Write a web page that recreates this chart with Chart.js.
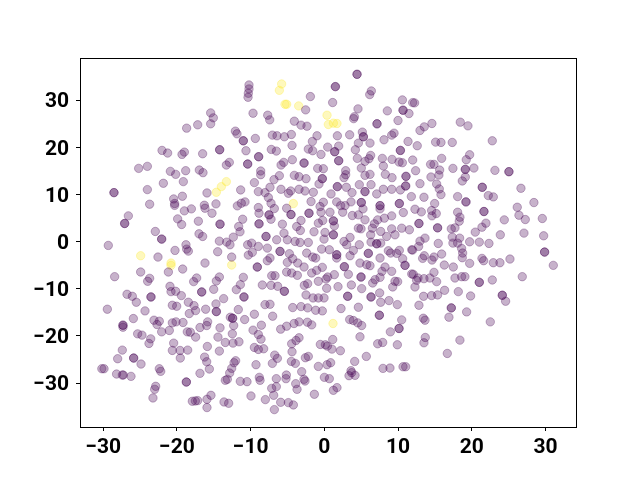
<!DOCTYPE html>
<html>
<head>
<meta charset="utf-8">
<style>body { margin: 0; background: #fff; } canvas { display: block; }</style>
<script src="https://cdn.jsdelivr.net/npm/chart.js@4"></script>
</head>
<body>
<canvas id="myChart" width="640" height="480"></canvas>
<script>
const xTicks = [-30, -20, -10, 0, 10, 20, 30];
const yTicks = [-30, -20, -10, 0, 10, 20, 30];

const yellow = [
    [-5.8,33.45],[-6.11,32.1],[-5.34,29.15],[-5.12,29.15],[-3.49,28.8],[0.36,26.83],[0.54,24.86],[1.22,25.14],[1.71,25.07],
    [-13.3,12.74],[-13.98,11.68],[-14.66,10.48],[-24.93,-2.98],[-20.81,-4.53],[-20.81,-5.02],[-12.58,-4.95],[-4.21,8.09],[1.17,-17.35]
];

const purple = [
    [-15.43,27.32],[-15.07,26.27],[-15.43,25],[-17.19,24.79],[-18.69,24.08],[-12.08,23.45],[-11.86,22.88],[-11,21.4],[-11,21.4],[-10.64,19.29],
    [-22.03,19.36],[-21.27,18.8],[-19,19],[-19.32,18.51],[-16.52,18.65],[-14.21,19.5],[-14.21,19.5],[-12.9,16.82],[-13.3,16.26],[-25.2,15.55],
    [-24.02,15.98],[-20.9,14.92],[-20.18,14.28],[-18.82,15.06],[-16.97,15.2],[-16.47,14.64],
    [4.43,35.5],[4.43,35.5],[1.49,32.89],[1.49,32.89],[-10.23,33.24],[-10.23,32.4],[-10.32,31.48],[-10.36,30.63],[6.37,31.97],[6.15,31.2],
    [-1.9,30.78],[1.12,29.51],[10.58,30.07],[11.98,29.5],[4.56,28.17],[8.54,27.75],[10.67,27.89],[10.67,27.89],[11.48,27.18],[-2.54,27.96],
    [-9.68,27.25],[-7.69,26.83],[-7.42,25.84],[-4.08,25.56],[-3.17,24.72],[-2.36,24.5],[3.97,26.1],[4.07,26.5],[7.14,25],[7.14,25],
    [9.99,25.7],[5.15,23.24],[5.29,22.25],[5.29,22.25],[3.43,22.67],[1.76,22.46],[-1,22.46],[-4.48,22.74],[-7.06,22.6],[-6.43,22.46],
    [-5.43,22.25],[-9.37,21.9],[9.45,23.02],[9.13,22.6],[8.09,21.61],[11.35,21.26],[-1.63,21.26],[4.61,20.91],[6.19,20.91],[-4.39,20.42],
    [0.45,20.06],[1.94,20.28],[4.2,19.5],[10.31,19.36],[10.31,19.36],[-2.18,19.64],[-1.59,19.29],[-0.46,18.51],[1.4,19.08],[1.4,19.08],
    [-7.2,19.57],[-6.52,19.22],[-8.92,18.02],[-8.92,18.02],[-4.35,17.39],[-5.52,16.82],[-5.88,16.26],[-2.76,16.68],[-2.76,16.68],[1.94,17.17],
    [1.94,17.17],[4.47,17.67],[6.28,18.3],[6.05,17.6],[5.51,17.03],[7.86,17.67],[9.18,17.46],[8,16.05],[10.13,16.89],[10.58,16.75],
    [11.98,17.32],[-10.41,16.47],[-10.41,16.47],[-0.91,15.55],[-0.14,15.48],[5.01,15.62],[2.89,15.06],[-8.64,14.99],[-8.64,14.21],[-4.08,14.07],
    [-3.44,13.79],[-2.49,13.37],[-6.11,14],[-6.84,13.16],[6.19,14.28],[5.51,14.07],[2.66,13.58],[2.89,14.21],[-0.28,13.37],[-0.28,13.37],
    [8.27,14.28],[9.18,13.58],[11.07,13.86],[11.07,13.86],
    [12.24,29.44],[18.44,25.35],[19.48,24.57],[14.59,25.07],[13.55,24.36],[12.97,23.59],[22.78,21.4],[17.35,21.05],[15.82,21.05],[15.09,21.12],
    [12.6,20.35],[19.71,18.44],[19.25,17.39],[15.91,17.67],[14.41,16.4],[14.87,16.4],[15.64,15.2],[17.44,15.55],[19.12,15.34],[19.12,15.34],
    [20.29,15.62],[23.14,15.13],[25.04,14.85],[25.04,14.85],[12.38,15.06],[15.54,14.14],[14.46,13.72],[19.12,13.72],[18.71,12.88],
    [-28.55,10.41],[-28.55,10.41],[-24.02,11.05],[-21.85,12.39],[-19.14,12.74],[-11.36,10.98],[-15.93,10.34],[-19.27,9.64],[-20.45,9.07],[-20.32,8.1],
    [-20.32,7.7],[-23.71,7.95],[-14.71,8.02],[-16.29,7.73],[-16.2,7.1],[-18.05,6.96],[-19,6.54],[-15.25,6.04],[-11.81,7.6],[-11.27,8.16],
    [-10.77,8.44],[-26.6,5.48],[-27.1,3.86],[-27.1,3.86],[-19.91,4.84],[-19.37,3.65],[-17.1,4.35],[-14.16,3.72],[-14.16,3.72],[-11.09,4.77],
    [-11.63,3.22],[-11.45,2.1],[-22.94,2.17],[-22.08,0.55],[-22.08,0.55],[-17.01,1.67],[-16.52,1.11],[-12.36,0.97],[-14.25,0.12],
    [-13.26,-0.09],[-12.81,-0.65],[-29.32,-0.79],[-18.78,-0.65],[-18.69,-1.57],[-18.46,-2],[-20.27,-1.85],[-14.48,-2.13],[-22.58,-3.26],
    [-12.58,-3.26],[-16.2,-4.53],[-19.23,-5.8],[-21.17,-6.43],[-24.93,-6.43],[-28.46,-7.42],[-23.71,-7.77],[-23.98,-8.4],[-17.33,-7.7],[-17.74,-8.47],
    [-14.25,-7.49],[-14.66,-8.33],[-11,-7.56],[-11.4,-9.11],[-11.95,-10.17],[-15.02,-10.1],[-20.95,-9.46],[-20.81,-10.59],[-20.18,-10.52],[-16.65,-10.66],
    [-16.65,-10.66],[-19.41,-11.43],[-26.78,-11.15],[-26.06,-11.58],[-23.53,-11.72],[-23.53,-11.72],[-13.67,-12.07],[-10.91,-11.72],[-10.91,-11.72],
    [-9.5,12.53],[-7.38,11.54],[-8.96,10.62],[-8.06,10.41],[-5.89,11.12],[-4.89,10.27],[-4.57,10.76],[-3.44,11.12],[-2.63,10.76],[-1.5,10.48],
    [-0.73,12.24],[1.76,11.68],[1.76,11.68],[2.98,11.54],[0.9,10.13],[3.75,10.41],[4.74,12.1],[6.33,12.1],[5.51,10.62],[5.51,10.62],
    [7.1,10.13],[8,11.12],[11.03,11.82],[11.03,11.82],[10.31,10.98],[9.13,11.12],[11.8,9.57],[-7.6,9.36],[-7.24,8.16],[-6.79,7.03],
    [-8.96,7.24],[-8.87,6.04],[-1.81,8.51],[-0.14,8.37],[-0.59,7.45],[-0.46,6.25],[0.76,6.25],[1.67,8.44],[2.21,7.66],
    [2.48,6.25],[2.8,7.66],[3.61,8.44],[5.01,8.3],[5.01,8.3],[5.24,6.96],[4.61,5.69],[3.79,5.55],[5.51,4.63],[7.55,7.66],
    [7.55,7.66],[7.55,6.96],[10.17,8.09],[10.17,8.09],[10.71,6.18],[9.13,5.48],[8.14,4.99],[7.23,4.63],[6.78,3.79],
    [-5.12,7.1],[-4.53,5.76],[-4.53,5.76],[-2.09,6.04],[-2.09,6.04],[-7.51,5.69],[-7.51,5.69],[-7.24,4.77],[-8.87,3.79],
    [-8.87,3.79],[-5.7,3.72],[-3.17,4.49],[-3.76,3.22],[-3.26,2.38],[-1.41,2.1],[-0.82,3.93],[-0.23,4.49],[1.22,4.42],[1.22,4.42],
    [1.35,3.36],[1.22,1.46],[1.22,1.46],[0.08,1.96],[-0.05,0.55],[4.61,2.87],[4.97,2.73],[6.51,2.87],[6.28,1.46],
    [7.64,2.17],[9.13,2.73],[10.49,2.87],[11.53,2.52],[9.58,1.46],[8.45,1.11],[6.33,-0.09],[7.1,-0.44],[7.1,-0.44],
    [7.64,-0.3],[3.48,0.9],[2.66,0.05],[3.03,-0.65],[4.74,-0.65],[-7.92,1.11],[-7.92,1.11],[-5.48,1.81],[-5.03,0.4],[-6.47,0.4],
    [-3.98,0.05],[-3.31,-0.16],[-2.18,-0.16],[-9.87,-0.3],[-8.96,-1],[-10.41,-0.65],[-7.74,-1.36],[-9.78,-2.27],[-10.32,-2.84],[-7.38,-3.47],
    [-7.74,-4.04],[-9.1,-5.37],[-9.1,-5.37],[-6.02,-2.06],[-6.02,-2.06],[-4.75,-2.55],[-4.3,-3.61],[-5.03,-4.39],[-3.62,-4.53],
    [-2.76,-5.37],[-2.4,-2.41],[-1.59,-3.26],[-1.18,-3.47],[-0.37,-1.57],[0.67,-1.71],[1.67,-2.77],[1.67,-2.77],[1.67,-3.47],
    [3.93,-1.85],[3.48,-2.98],[5.96,-2.48],[5.96,-2.48],[7.55,-3.47],[8.68,-1.92],[8.99,-2.41],[10.17,-1.85],
    [9.81,-2.48],[11.85,-1.71],[10.62,-3.61],[10.94,-5.02],[10.94,-5.02],[4.83,-4.53],[5.74,-4.88],[6.19,-5.09],[2.71,-5.3],
    [2.71,-5.3],[8.23,-5.37],[7.82,-6.29],[9.13,-6.29],[3.25,-6.92],[4.97,-7.49],[4.97,-7.49],[-5.12,-6.43],[-4.44,-6.64],[-3.67,-7.13],
    [-1.72,-6.64],[-1.05,-6.08],[-0.28,-5.44],[1.35,-6.99],[0.45,-7.49],[0.22,-7.91],[-0.82,-8.4],[-2.72,-9.25],
    [-2.27,-8.9],[0.31,-9.88],[1.85,-9.53],[3.66,-9.18],[5.06,-9.95],[-7.15,-7.21],[-6.7,-7.21],[-8.42,-9.18],[-7.24,-9.25],[-6.34,-9.46],
    [-5.43,-10.52],[-5.43,-10.52],[6.87,-8.05],[7.55,-7.56],[6.55,-8.76],[11.85,-6.85],[9.94,-8.47],[9.27,-9.6],
    [9.58,-8.4],[7.5,-10.87],[6.33,-11.72],[6.33,-11.72],[3.16,-11.57],[3.16,-11.57],[-2.49,-11.29],[-1.54,-11.93],[-0.82,-11.93],[-0.05,-11.93],
    [12.97,12.31],[15.23,12.24],[15.59,11.19],[15.82,9.99],[21.42,11.54],[21.42,11.54],[26.67,11.33],[18.08,9.57],[19.21,8.44],[19.21,8.44],
    [22.24,9.78],[22.92,9.5],[13.51,9.43],[28.43,8.3],[26.17,7.31],[14.96,8.09],[12.29,6.89],[13.15,6.32],[14.55,6.61],[15.18,5.97],
    [14.6,5.48],[18.08,6.25],[21.65,6.4],[21.65,6.4],[26.4,5.62],[27.26,4.7],[29.57,4.92],[24.41,4.63],[18.39,5.2],
    [18.3,4.35],[21.92,3.93],[21.38,3.08],[20.47,2.03],[17.72,2.94],[17.22,2.73],[12.83,3.86],[12.83,3.86],[15.36,2.94],
    [15.36,2.94],[23.87,1.46],[27.08,1.82],[29.75,1.25],[13.65,0.76],[12.97,0.12],[12.79,-1],[11.97,-1.78],[15.45,-0.37],[17.35,0.97],
    [18.35,0.76],[17.44,-0.3],[18.08,-0.3],[19.71,-0.02],[21.02,-0.09],[22.33,-0.37],[18.62,-1.43],[18.76,-2.41],
    [18.71,-3.4],[29.88,-2.2],[29.88,-2.2],[13.56,-2.98],[13.33,-3.54],[14.87,-3.26],[14.6,-3.89],[15.91,-2.62],[16.27,-4.95],[17.49,-5.37],
    [19.71,-4.6],[21.38,-3.54],[21.61,-4.03],[22.92,-4.46],[23.82,-4.46],[25.18,-3.68],[31.06,-5.02],[14.87,-6.5],[12.06,-6.92],
    [12.7,-7.7],[12.51,-8.19],[13.51,-7.84],[14.32,-7.7],[15.23,-8.47],[12.29,-9.6],[17.72,-7.7],[18.62,-7.42],
    [19.07,-7.42],[21.02,-8.62],[21.02,-8.62],[22.78,-8.12],[26.85,-7.42],[16.31,-10.31],[18.17,-10.59],[19.84,-11.51],[24.14,-11.36],[24.14,-11.36],
    [24.59,-12.63],[13.46,-11.58],[14.55,-11.43],[15.36,-11.29],
    [-29.45,-14.32],[-25.92,-16.3],[-24.34,-14.68],[-25.52,-12.84],[-20.63,-13.48],[-20.04,-13.69],[-18.46,-12.84],[-17.69,-13.55],[-17.47,-14.61],[-18.33,-15.24],
    [-16.11,-14.32],[-14.71,-13.2],[-14.66,-14.82],[-14.66,-14.82],[-11.68,-14.39],[-12.76,-16.02],[-12.45,-16.23],[-12.45,-16.23],[-10.82,-16.51],
    [-27.33,-17.71],[-27.33,-17.71],[-27.33,-18.13],[-23.12,-16.65],[-22.4,-16.86],[-22.71,-17.57],[-20.63,-17.21],[-20.13,-17],
    [-19.18,-17.14],[-22.08,-19.12],[-21.04,-18.83],[-25.34,-19.54],[-24.75,-19.82],[-23.57,-20.6],[-23.8,-21.58],[-18.6,-19.12],[-18.19,-19.19],[-17.47,-20.24],
    [-16.88,-18.2],[-15.97,-17.78],[-15.84,-17],[-14.16,-18.27],[-12.31,-17.78],[-12.49,-19.54],[-14.44,-20.24],[-13.44,-21.37],[-12.4,-21.51],
    [-11.59,-21.23],[-15.88,-22.22],[-14.25,-23.2],[-20.45,-21.51],[-20.63,-23.06],[-19.59,-23.06],[-18.55,-22.99],[-19.55,-24.68],[-27.42,-22.99],[-28.05,-24.82],
    [-25.88,-24.68],[-25.88,-24.68],[-24.88,-25.95],[-16.25,-24.47],[-15.97,-25.46],[-15.61,-27.01],[-16.88,-27.92],[-12.04,-25.25],[-12.26,-25.67],
    [-12.58,-26.87],[-12.85,-27.85],[-13.17,-29.19],[-13.44,-29.4],[-11.41,-29.62],[-10.5,-29.69],[-30.2,-26.94],[-29.9,-26.94],[-28.2,-28.07],
    [-27.42,-28.28],[-27.28,-28.28],[-26.24,-28.56],[-22.4,-26.94],[-22.21,-27.5],[-18.73,-29.76],[-18.73,-29.76],[-22.89,-30.67],[-23.03,-31.31],[-23.26,-33.14],
    [-17.92,-33.84],[-17.51,-33.77],[-17.19,-33.7],[-15.39,-32.58],[-15.93,-33.42],[-15.93,-35.18],[-13.62,-33.99],[-12.99,-34.27],
    [-8.06,-13.34],[-7.38,-13.27],[-4.3,-13.97],[-3.17,-13.76],[-2.27,-14.04],[-1.18,-14.54],[-0.28,-14.68],[2.26,-14.18],[4.61,-13.9],[7.64,-12.84],
    [8.77,-12.49],[9.9,-13.34],[-9.5,-15.38],[-7.02,-15.8],[7.46,-15.59],[7.46,-15.59],[10.49,-16.58],[3.43,-16.51],[3.93,-16.72],
    [4.52,-17.21],[5.06,-17.78],[-3.44,-17],[-4.12,-17.35],[-2.31,-17.07],[-1.72,-17.64],[-5.12,-17.92],
    [-5.93,-18.55],[-8.55,-17.71],[-9.68,-18.76],[-8.96,-19.68],[-8.6,-20.67],[10.13,-18.41],[10.13,-18.41],[8.95,-19.12],[4.83,-20.17],
    [-3.44,-20.38],[-3.85,-20.95],[-4.44,-21.65],[1.13,-20.74],[-0.55,-21.79],[0.13,-21.86],[0.4,-22.15],[1.03,-22.78],
    [2.17,-23.13],[7.23,-21.65],[7.91,-21.37],[9.9,-21.86],[-9.5,-22.43],[-8.96,-22.85],[-8.24,-22.71],[-4.39,-23.35],[-6.74,-24.05],
    [-6.38,-24.75],[-7.06,-25.81],[-9.28,-26.09],[-4.48,-25.39],[-3.94,-25.81],[-2.58,-24.61],[-2.18,-24.33],[5.69,-24.33],[4.11,-25.39],
    [0.85,-25.67],[0.36,-26.09],[-0.82,-26.45],[7.95,-26.87],[8.9,-26.8],[10.67,-26.52],[11.03,-26.52],[3.61,-27.36],[3.34,-28.42],[4.16,-28.35],
    [3.7,-27.78],[-3.08,-27.57],[-5.16,-28.28],[-5.21,-29.05],[-6.52,-29.05],[-8.83,-28.77],[-8.73,-29.4],[-3.89,-30.11],[-2.77,-29.19],
    [-2.63,-29.55],[0,-28.77],[0.67,-29.05],[-6.52,-30.74],[-7.15,-31.1],[-3.71,-31.31],[1.71,-30.95],[1.22,-31.52],[-9.96,-32.72],
    [-6.88,-32.58],[-1.36,-32.36],[-8.01,-33.49],[-5.93,-34.06],[-4.89,-34.13],[-4.21,-34.62],[-6.79,-35.61],
    [12.83,-13.48],[17.22,-14.04],[17.22,-14.04],[19.3,-14.89],[16.9,-16.01],[22.51,-17],[13.42,-16.23],[13.65,-16.65],[13.69,-20.31],
    [13.51,-21.44],[18.39,-20.88],[16.68,-23.7]
];

const toPoints = list => list.map(p => ({x: p[0], y: p[1]}));
const tickFont = {family: 'Roboto', size: 21, weight: 'bold'};

// matplotlib style box round the axes
const axesBox = {
    id: 'axesBox',
    afterDraw(chart) {
        const a = chart.chartArea;
        chart.ctx.save();
        chart.ctx.strokeStyle = '#000';
        chart.ctx.lineWidth = 1;
        chart.ctx.strokeRect(a.left + 0.5, a.top + 0.5, a.right - a.left, a.bottom - a.top);
        chart.ctx.restore();
    }
};

const config = {
    type: 'scatter',
    data: {
        datasets: [
            {
                label: 'purple',
                data: toPoints(purple),
                backgroundColor: 'rgba(68, 1, 84, 0.3)',
                borderColor: 'rgba(68, 1, 84, 0.3)',
                borderWidth: 1,
                pointRadius: 4.2
            },
            {
                label: 'yellow',
                data: toPoints(yellow),
                backgroundColor: 'rgba(253, 231, 37, 0.3)',
                borderColor: 'rgba(253, 231, 37, 0.3)',
                borderWidth: 1,
                pointRadius: 4.2
            }
        ]
    },
    options: {
        responsive: false,
        animation: false,
        layout: {padding: {top: 58, right: 64}},
        plugins: {legend: {display: false}, tooltip: {enabled: false}},
        scales: {
            x: {
                type: 'linear',
                min: -33.16,
                max: 34.14,
                grid: {drawOnChartArea: false, color: '#000', tickLength: 4},
                border: {display: false},
                afterBuildTicks: s => { s.ticks = xTicks.map(v => ({value: v})); },
                afterFit: s => { s.height = 53; },
                ticks: {
                    color: '#000',
                    font: tickFont,
                    padding: 4,
                    maxRotation: 0,
                    autoSkip: false,
                    callback: v => String(v).replace('-', '\u2212')
                }
            },
            y: {
                type: 'linear',
                min: -39.3,
                max: 38.96,
                grid: {drawOnChartArea: false, color: '#000', tickLength: 4},
                border: {display: false},
                afterBuildTicks: s => { s.ticks = yTicks.map(v => ({value: v})); },
                afterFit: s => { s.width = 80; },
                ticks: {
                    color: '#000',
                    font: tickFont,
                    padding: 7,
                    labelOffset: 2,
                    autoSkip: false,
                    callback: v => String(v).replace('-', '\u2212')
                }
            }
        }
    },
    plugins: [axesBox]
};

new Chart(document.getElementById('myChart'), config);
</script>
</body>
</html>
